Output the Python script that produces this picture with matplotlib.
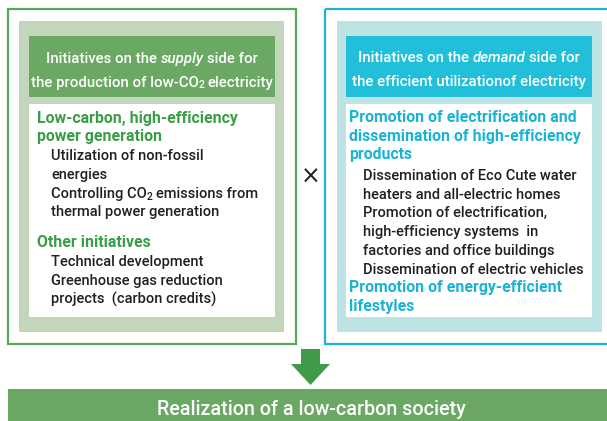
import matplotlib
matplotlib.use('Agg')
import matplotlib.pyplot as plt
from matplotlib.patches import Rectangle, Polygon

# ---- content ----
supply_header = [[("Initiatives on the", 'normal'), ("supply", 'italic'), ("side for", 'normal')],
                 [("the production of low-CO", 'normal'), ("2", 'sub'), (" electricity", 'normal')]]
demand_header = [[("Initiatives on the", 'normal'), ("demand", 'italic'), ("side for", 'normal')],
                 [("the efficient utilizationof electricity", 'normal')]]

supply_lines = [
    ("Low-carbon, high-efficiency", 'head'),
    ("power generation", 'head'),
    ("Utilization of non-fossil", 'item'),
    ("energies", 'item'),
    ("Controlling CO|2| emissions from", 'item'),
    ("thermal power generation", 'item'),
    ("Other initiatives", 'head'),
    ("Technical development", 'item'),
    ("Greenhouse gas reduction", 'item'),
    ("projects  (carbon credits)", 'item'),
]
supply_baselines = [123, 141, 160, 179, 198, 216, 247, 266, 285, 304]

demand_lines = [
    ("Promotion of electrification and", 'head'),
    ("dissemination of high-efficiency", 'head'),
    ("products", 'head'),
    ("Dissemination of Eco Cute water", 'item'),
    ("heaters and all-electric homes", 'item'),
    ("Promotion of electrification,", 'item'),
    ("high-efficiency systems  in", 'item'),
    ("factories and office buildings", 'item'),
    ("Dissemination of electric vehicles", 'item'),
    ("Promotion of energy-efficient", 'head'),
    ("lifestyles", 'head'),
]
demand_baselines = [122, 141, 159, 180, 199, 217, 236, 255, 274, 292, 311]

conclusion = "Realization of a low-carbon society"
times_sign = "×"

# ---- style ----
W, H = 607, 421
FONT = ['Roboto', 'Liberation Sans', 'DejaVu Sans']
G_BORDER, G_FILL, G_HEAD, G_TEXT = '#52AB5C', '#C3D6BB', '#6AA863', '#3A9D48'
C_BORDER, C_FILL, C_HEAD, C_TEXT = '#1CB5D8', '#BEE3E4', '#22BFDA', '#1AB3D4'
BLACK = '#231F20'
ARROW = '#3F9B4A'

fig = plt.figure(figsize=(W / 100, H / 100), dpi=100)
ax = fig.add_axes([0, 0, 1, 1])
ax.set_xlim(0, W)
ax.set_ylim(H, 0)
ax.axis('off')
renderer = fig.canvas.get_renderer()


def rect(x0, y0, x1, y1, fc='none', ec='none', lw=0):
    ax.add_patch(Rectangle((x0, y0), x1 - x0, y1 - y0, facecolor=fc, edgecolor=ec, linewidth=lw))


def rich(x, y, pieces, color, size, ha='left', weight='medium', measure=False):
    texts = []
    for i, (s, kind) in enumerate(pieces):
        gap = 0
        if i > 0 and kind != 'sub' and pieces[i - 1][1] != 'sub' and not s.startswith(' '):
            gap = size * 0.3
        if s.startswith(' '):
            gap = size * 0.3
            s = s.lstrip()
        fs = size * 0.7 if kind == 'sub' else size
        dy = 1.5 if kind == 'sub' else 0
        t = ax.text(0, y + dy, s, color=color, fontsize=fs,
                    fontstyle='italic' if kind == 'italic' else 'normal',
                    family=FONT, va='baseline', ha='left', weight=weight)
        texts.append((t, gap, dy))
    widths = [t.get_window_extent(renderer).width for t, _, _ in texts]
    total = sum(widths) + sum(g for _, g, _ in texts)
    if measure:
        for t, _, _ in texts:
            t.remove()
        return total
    x0 = x - total / 2 if ha == 'center' else x
    for (t, gap, dy), w in zip(texts, widths):
        x0 += gap
        t.set_position((x0, y + dy))
        x0 += w
    return total


def parse(s):
    parts = s.split('|')
    out = []
    for i, p in enumerate(parts):
        if p == '':
            continue
        out.append((p, 'sub' if i % 2 == 1 else 'normal'))
    return out


def fit(pieces, target, weight='medium'):
    w = rich(0, 0, pieces, 'k', 10, weight=weight, measure=True)
    return 10 * target / w


# ---- left (supply) panel ----
rect(8, 9, 296, 344, ec=G_BORDER, lw=1.6)
rect(19, 21, 284, 332, fc=G_FILL)
rect(29, 36, 275, 97, fc=G_HEAD)
rect(29, 104, 275, 317, fc='white')

# ---- right (demand) panel ----
rect(325, 9, 640, 344, ec=C_BORDER, lw=1.6)
rect(337, 21, 602, 332, fc=C_FILL)
rect(346, 36, 592, 97, fc=C_HEAD)
rect(346, 104, 592, 317, fc='white')

HS = fit(supply_header[1], 243)
rich(152, 63, supply_header[0], 'white', HS, ha='center')
rich(152, 87, supply_header[1], 'white', HS, ha='center')
rich(469, 62, demand_header[0], 'white', HS, ha='center')
rich(469, 86, demand_header[1], 'white', HS, ha='center')

BS = fit([("Dissemination of electric vehicles", 'normal')], 221)
BH = fit([("Promotion of electrification and", 'normal')], 228, weight='bold')
for (s, kind), yb in zip(supply_lines, supply_baselines):
    if kind == 'head':
        rich(37, yb, parse(s), G_TEXT, BH, weight='bold')
    else:
        rich(51, yb, parse(s), BLACK, BS)

for (s, kind), yb in zip(demand_lines, demand_baselines):
    if kind == 'head':
        rich(349, yb, parse(s), C_TEXT, BH, weight='bold')
    else:
        rich(363, yb, parse(s), BLACK, BS)

# times sign
ax.text(311, 177, times_sign, color=BLACK, fontsize=17, ha='center', va='center', family=['DejaVu Sans'])

# arrow
ax.add_patch(Polygon([(301, 349), (320, 349), (320, 364), (330, 364), (310.5, 385),
                      (291, 364), (301, 364)], closed=True, facecolor=ARROW, edgecolor='none'))

# bottom bar
rect(8, 389, 640, 425, fc=G_HEAD)
CS = fit([(conclusion, 'normal')], 309)
rich(311, 415, [(conclusion, 'normal')], 'white', CS, ha='center')

fig.savefig('out.png', dpi=100)
